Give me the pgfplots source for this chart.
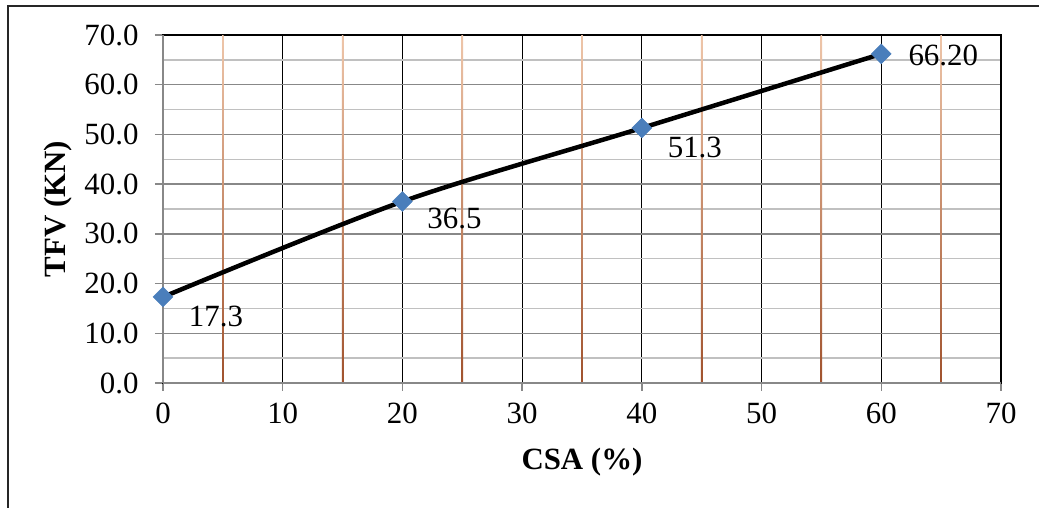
\documentclass[border=0pt]{standalone}
\usepackage{pgfplots}
\pgfplotsset{compat=1.18}
\usepackage{pgfplotstable}
\usepackage{fontspec}
\setmainfont{Liberation Serif}
\definecolor{markblue}{RGB}{74,126,187}
\definecolor{majgrid}{RGB}{136,136,136}
\definecolor{mingrid}{RGB}{192,192,192}
\definecolor{mintop}{RGB}{238,198,170}
\definecolor{minbot}{RGB}{160,82,45}
\pgfplotstableread{
x y lab dx dy
0 17.3 17.3 53 -19
20 36.5 36.5 52 -17
40 51.3 51.3 53 -20
60 66.2 66.20 62 -2
}\datatable
\begin{document}
\begin{tikzpicture}
\useasboundingbox (0,0) rectangle (1039bp,508bp);
\draw[line width=1.2bp, black!85] (8bp,-2bp) -- (8bp,502bp) -- (1041bp,502bp);
\begin{axis}[
  at={(163bp,125bp)}, anchor=south west,
  scale only axis, width=838bp, height=348bp,
  xmin=0, xmax=70, ymin=0, ymax=70,
  xtick={0,10,...,70}, ytick={0,10,...,70},
  minor x tick num=1, minor y tick num=1,
  xmajorgrids, ymajorgrids, yminorgrids,
  major x grid style={black, line width=1.1bp},
  major y grid style={majgrid, line width=1.4bp},
  minor y grid style={mingrid, line width=1.4bp},
  axis line style={black, line width=1.2bp},
  xtick pos=left, ytick pos=left,
  tick align=outside, major tick length=8bp, minor tick length=0pt,
  major tick style={majgrid, line width=1.4bp},
  /pgf/number format/assume math mode=true,
  tick label style={font=\fontsize{31}{33}\selectfont},
  yticklabel style={xshift=-13bp},
  xticklabel style={yshift=-8bp},
  yticklabel={\pgfmathprintnumber[fixed, fixed zerofill, precision=1]{\tick}},
  xlabel={\textbf{CSA (\%)}}, ylabel={\textbf{TFV (KN)}},
  label style={font=\fontsize{31}{33}\selectfont},
  xlabel style={at={(axis description cs:0.5,-0.227)}, anchor=center},
  ylabel style={at={(axis description cs:-0.1253,0.5)}, anchor=center},
  clip=false,
]
\pgfplotsinvokeforeach{5,15,...,65}{
  \shade[top color=mintop, bottom color=minbot] ([xshift=-0.8bp]axis cs:#1,0) rectangle ([xshift=0.8bp]axis cs:#1,70);
}
\draw[majgrid, line width=1.4bp] (axis cs:0,0) -- (axis cs:0,70);
\draw[majgrid, line width=1.4bp] (axis cs:0,0) -- (axis cs:70,0);
\addplot[black, line width=4.5bp, smooth, mark=square*, mark size=7bp,
  mark options={rotate=45, fill=markblue, draw=markblue, line width=0.5bp},
  nodes near coords, point meta=explicit symbolic,
  visualization depends on={\thisrow{dx} \as \dx},
  visualization depends on={\thisrow{dy} \as \dy},
  every node near coord/.append style={anchor=center, xshift=\dx bp, yshift=\dy bp, font=\fontsize{31}{33}\selectfont, text=black}
] table[x=x, y=y, meta=lab] {\datatable};
\end{axis}
\end{tikzpicture}
\end{document}
